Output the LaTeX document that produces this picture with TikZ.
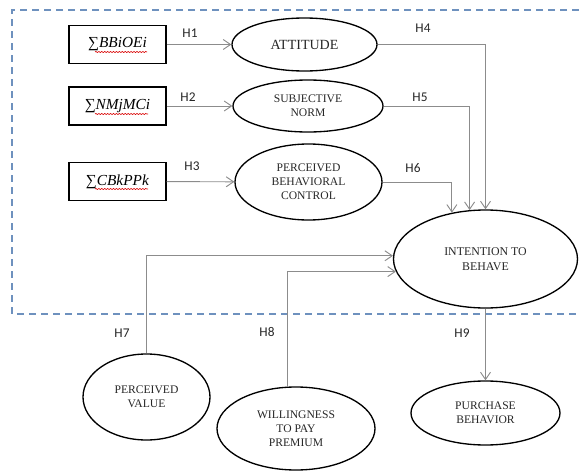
\documentclass[tikz,border=0pt]{standalone}
\usepackage{fontspec}
\setmainfont{Liberation Serif}
\newfontfamily\hfont{Carlito}
\usetikzlibrary{shapes.geometric,arrows.meta,decorations.pathmorphing}
\begin{document}
\begin{tikzpicture}[x=0.75pt,y=-0.75pt,
  ell/.style={draw=black, line width=1pt, ellipse, inner sep=0pt, align=center,
    font=\fontsize{8.7}{10.5}\selectfont, text=black!85},
  sumbox/.style={draw=black, line width=1pt, minimum width=97*0.75pt,
    minimum height=38*0.75pt, inner sep=0pt, font=\fontsize{11.5}{13}\selectfont},
  arr/.style={draw=black!45, line width=0.7pt, -{Straight Barb[length=5.5pt,width=7.5pt]}},
  hyp/.style={font=\hfont\fontsize{10}{12}\selectfont, text=black!85, inner sep=0pt},
  frame/.style={draw={rgb,255:red,110;green,145;blue,190}, dash pattern=on 5.25pt off 3.75pt, line width=1pt},
  squig/.style={draw=red!85!black, line width=0.45pt, decorate,
    decoration={snake, amplitude=0.45pt, segment length=2.2pt}}
]
\useasboundingbox (0,0) rectangle (579,471);

% dashed frame
\draw[frame] (579,10) -- (12,10) -- (12,314) -- (579,314);

% sum boxes
\node[sumbox] (b1) at (117.5,44.5) {∑\textit{BBiOEi}};
\node[sumbox] (b2) at (117.5,106) {∑\textit{NMjMCi}};
\node[sumbox] (b3) at (117.5,181.5) {∑\textit{CBkPPk}};
\draw[squig] (95,52) -- (147,52);
\draw[squig] (95,114) -- (148,114);
\draw[squig] (95,189) -- (148,189);

% ellipses
\node[ell, minimum width=145*0.75pt, minimum height=53*0.75pt,
  font=\fontsize{10.5}{12}\selectfont] (att) at (304.5,44.5) {ATTITUDE};
\node[ell, minimum width=150*0.75pt, minimum height=52*0.75pt] (subj) at (308,106) {SUBJECTIVE\\NORM};
\node[ell, minimum width=147*0.75pt, minimum height=76*0.75pt] (pbc) at (308.5,182) {PERCEIVED\\BEHAVIORAL\\CONTROL};
\node[ell, minimum width=184*0.75pt, minimum height=98*0.75pt,
  font=\fontsize{8.9}{11.25}\selectfont] (int) at (485.5,259) {INTENTION TO\\BEHAVE};
\node[ell, minimum width=127*0.75pt, minimum height=86*0.75pt] (pv) at (146.5,397) {PERCEIVED\\VALUE};
\node[ell, minimum width=158*0.75pt, minimum height=83*0.75pt] (wtp) at (296,428.5) {WILLINGNESS\\TO PAY\\PREMIUM};
\node[ell, minimum width=149*0.75pt, minimum height=64*0.75pt] (pb) at (485.5,413) {PURCHASE\\BEHAVIOR};

% connectors
\draw[arr] (b1) -- (att);
\draw[arr] (b2) -- (subj);
\draw[arr] (b3) -- (pbc);
\draw[arr] (att.east) -| (int.north);
\draw[arr] (subj.east) -| (int.108.9);
\draw[arr] (pbc.east) -| (int.126.3);
\draw[arr] (pv.north) |- (int.178.75);
\draw[arr] (wtp.101) |- (int.188.34);
\draw[arr] (int.south) -- (pb.north);

% hypothesis labels
\node[hyp] (h1) at (190,33) {H1};
\node[hyp] (h2) at (188,97) {H2};
\node[hyp] (h3) at (192,166) {H3};
\node[hyp] (h4) at (423,28) {H4};
\node[hyp] (h5) at (420,97) {H5};
\node[hyp] (h6) at (413,168) {H6};
\node[hyp] (h7) at (122,333) {H7};
\node[hyp] (h8) at (267,332) {H8};
\node[hyp] (h9) at (462,333) {H9};
\end{tikzpicture}
\end{document}
